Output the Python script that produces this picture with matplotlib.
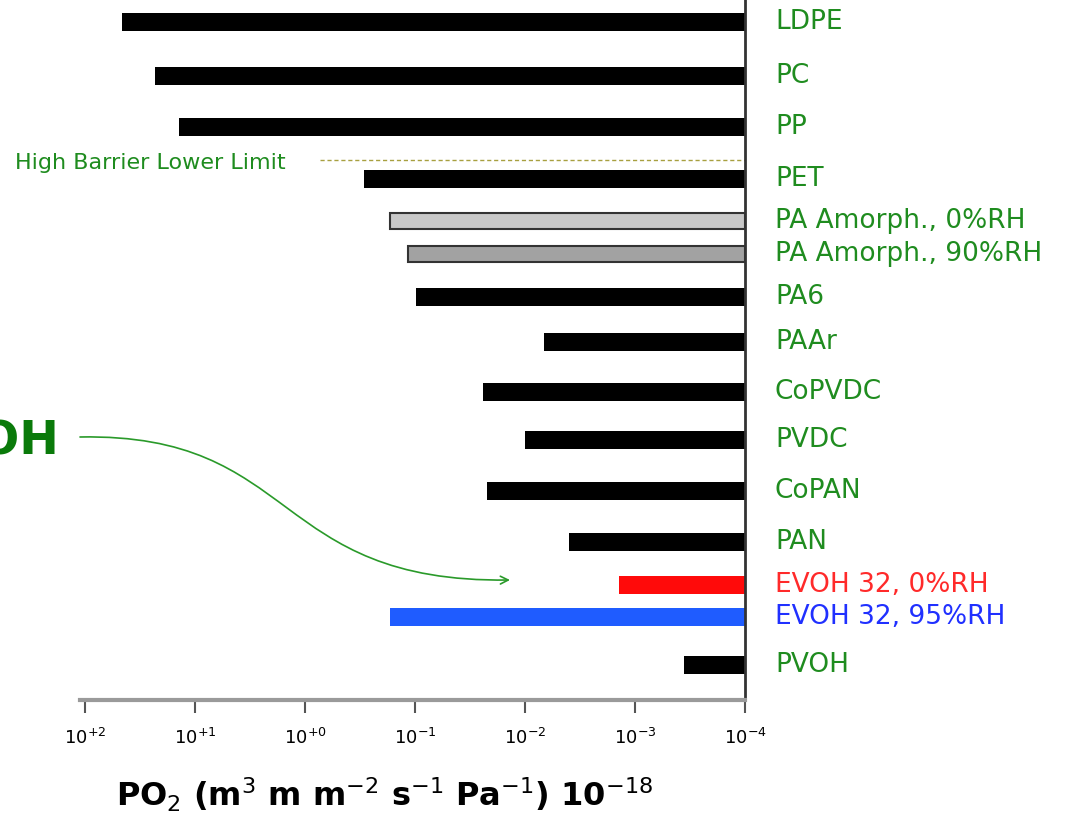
import numpy as np
import matplotlib
matplotlib.use('Agg')
import matplotlib.pyplot as plt
from matplotlib.patches import FancyArrowPatch
from matplotlib.path import Path

# polymers, top to bottom
polymers = ['LDPE', 'PC', 'PP', 'PET', 'PA Amorph., 0%RH', 'PA Amorph., 90%RH',
            'PA6', 'PAAr', 'CoPVDC', 'PVDC', 'CoPAN', 'PAN',
            'EVOH 32, 0%RH', 'EVOH 32, 95%RH', 'PVOH']
# O2 permeability (x 1e-18 m3 m m-2 s-1 Pa-1), upper end of each bar
po2_high = [46, 23, 14, 0.29, 0.17, 0.115, 0.098, 0.0067, 0.024, 0.010,
            0.022, 0.004, 0.0014, 0.17, 0.00036]
po2_low = 1e-4
high_barrier_limit = 0.73

# row centres (pixel rows of the original slide)
rows = [22, 76, 127, 179, 221, 254, 297, 342, 392, 440, 491, 542, 585, 617, 665]

green = '#1f8c1f'
fills = ['black'] * 4 + ['#c8c8c8', '#a2a2a2'] + ['black'] * 6 + ['#ff0a0a', '#1f5cff', 'black']
edges = ['black'] * 4 + ['#333333', '#333333'] + ['black'] * 6 + ['#ff0a0a', '#1f5cff', 'black']
heights = [18] * 4 + [16, 16] + [18] * 9
label_colors = [green] * 12 + ['#ff2a2a', '#2030ff', green]

ticks = [1e2, 1e1, 1e0, 1e-1, 1e-2, 1e-3, 1e-4]
tick_labels = [r'$10^{+2}$', r'$10^{+1}$', r'$10^{+0}$', r'$10^{-1}$',
               r'$10^{-2}$', r'$10^{-3}$', r'$10^{-4}$']

W, H = 1079, 826
fig = plt.figure(figsize=(W / 100, H / 100), dpi=100)
ax = fig.add_axes([80 / W, 1 - 700 / H, (745 - 80) / W, 700 / H])

ax.set_xscale('log')
for y, hi, fc, ec, h in zip(rows, po2_high, fills, edges, heights):
    ax.barh(y, hi - po2_low, left=po2_low, height=h, color=fc,
            edgecolor=ec, linewidth=1.5 if fc != ec else 0)

ax.set_xlim(10 ** 2.045, 1e-4)
ax.set_ylim(700, 0)

ax.plot([high_barrier_limit, po2_low], [160, 160], color='#a8a040',
        linestyle=(0, (3, 2)), linewidth=1)
fig.text(15 / W, 1 - 163 / H, 'High Barrier Lower Limit', color=green,
         fontsize=16, ha='left', va='center')

for y, name, c in zip(rows, polymers, label_colors):
    ax.text(1.045, y, name, transform=ax.get_yaxis_transform(), color=c,
            fontsize=19, va='center', ha='left', clip_on=False)

ax.set_xticks(ticks)
ax.set_xticklabels(tick_labels, fontsize=13)
ax.minorticks_off()
ax.tick_params(axis='x', direction='out', length=9, width=1.5, color='#555555', pad=11)
ax.set_yticks([])

for s in ['left', 'top']:
    ax.spines[s].set_visible(False)
ax.spines['bottom'].set_color('#9a9a9a')
ax.spines['bottom'].set_linewidth(3)
ax.spines['right'].set_color('#333333')
ax.spines['right'].set_linewidth(2)
ax.set_xlabel(r'PO$_2$ (m$^3$ m m$^{-2}$ s$^{-1}$ Pa$^{-1}$) 10$^{-18}$',
              fontsize=23, fontweight='bold')
ax.xaxis.set_label_coords((385 - 80) / 665, -76 / 700)

# EVOH callout (cut off at the left edge, as on the slide)
fig.text(60 / W, 1 - 442 / H, 'EVOH', color='#0a7a0a', fontsize=34,
         fontweight='bold', ha='right', va='center')


def fxy(x, y):
    return (x / W, 1 - y / H)


verts = [fxy(80, 437), fxy(300, 433), fxy(270, 583), fxy(510, 580)]
curve = Path(verts, [Path.MOVETO, Path.CURVE4, Path.CURVE4, Path.CURVE4])
arrow = FancyArrowPatch(path=curve, transform=fig.transFigure, arrowstyle='->',
                        mutation_scale=14, color='#2a9a2a', linewidth=1.2)
fig.patches.append(arrow)

fig.savefig('out.png', dpi=100)
